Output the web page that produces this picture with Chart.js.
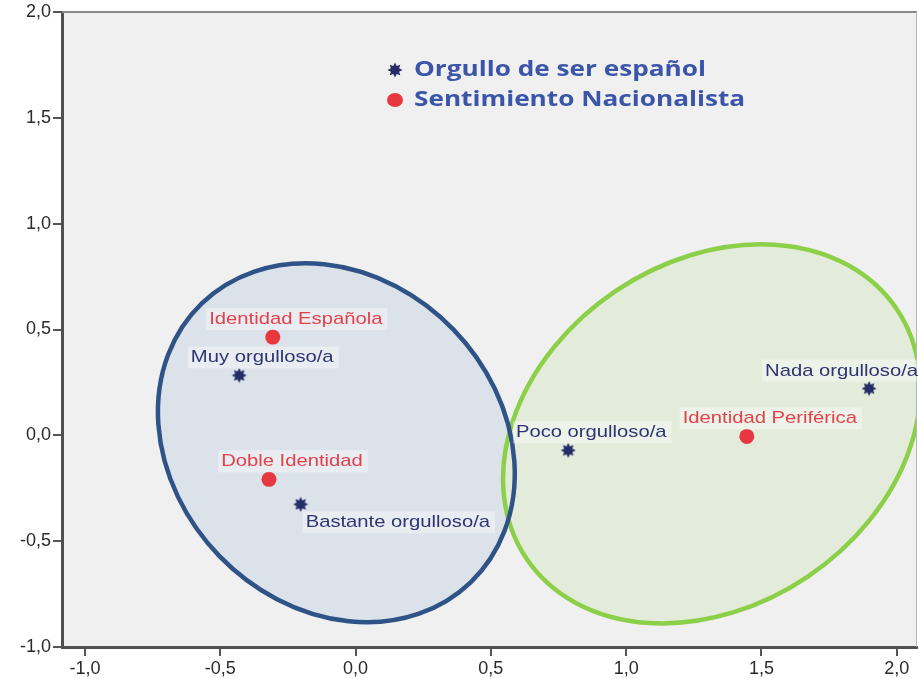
<!DOCTYPE html>
<html><head><meta charset="utf-8">
<style>html,body{margin:0;padding:0;background:#fff}canvas{display:block}</style>
<script src="https://cdn.jsdelivr.net/npm/chart.js@4.4.1/dist/chart.umd.min.js"></script>
</head><body>
<canvas id="c" width="918" height="679"></canvas>
<script>
// ---- data ----
const prideSeriesName = 'Orgullo de ser español';
const prideLabels = ['Muy orgulloso/a', 'Bastante orgulloso/a', 'Poco orgulloso/a', 'Nada orgulloso/a'];
const prideX = [-0.430, -0.203, 0.786, 1.898];
const prideY = [0.283, -0.326, -0.071, 0.221];

const identitySeriesName = 'Sentimiento Nacionalista';
const identityLabels = ['Identidad Española', 'Doble Identidad', 'Identidad Periférica'];
const identityX = [-0.306, -0.320, 1.446];
const identityY = [0.464, -0.208, -0.005];

const xTickValues = [-1.0, -0.5, 0.0, 0.5, 1.0, 1.5, 2.0];
const yTickValues = [-1.0, -0.5, 0.0, 0.5, 1.0, 1.5, 2.0];

// group ellipses (data units; radii in x-units, angle in degrees)
const groupCenterX = [-0.071, 1.316];
const groupCenterY = [-0.035, 0.007];
const groupRadiusA = [0.716, 0.825];
const groupRadiusB = [0.602, 0.636];
const groupAngle = [46, -34];

// ---- styles ----
const pridePlacement = ['above', 'below', 'above', 'above'];
const identityPlacement = ['above', 'above', 'above'];
const NAVY = '#252c66';
const RED = '#e8383f';
const groupStroke = ['#2f5387', '#8ccf48'];
const groupFill = ['#dce2ea', 'rgba(226,236,216,0.92)'];

function makeStar(color) {
  const c = document.createElement('canvas');
  c.width = 18; c.height = 18;
  const g = c.getContext('2d');
  g.fillStyle = color;
  g.beginPath();
  const n = 8;
  for (let k = 0; k < n * 2; k++) {
    const r = (k % 2 === 0) ? 7.5 : 4.4;
    const a = -Math.PI / 2 + k * Math.PI / n;
    const px = 9 + r * Math.cos(a), py = 9 + r * Math.sin(a);
    if (k === 0) g.moveTo(px, py); else g.lineTo(px, py);
  }
  g.closePath();
  g.fill();
  return c;
}
const starImg = makeStar(NAVY);

const fmt = v => v.toFixed(1).replace('.', ',');
const zip = (xs, ys) => xs.map((x, i) => ({x: x, y: ys[i]}));

const bgPlugin = {
  id: 'bg',
  beforeDraw(chart) {
    const {ctx, chartArea: a} = chart;
    ctx.save();
    ctx.fillStyle = '#f0f0f0';
    ctx.fillRect(a.left, a.top, a.right - a.left, a.bottom - a.top);
    ctx.restore();
  },
  beforeDatasetsDraw(chart) {
    const {ctx, chartArea: a, scales} = chart;
    const xs = scales.x, ys = scales.y;
    ctx.save();
    ctx.beginPath();
    ctx.rect(a.left, a.top, a.right - a.left, a.bottom - a.top);
    ctx.clip();
    const geo = groupCenterX.map((cx, i) => ({
      x: xs.getPixelForValue(cx),
      y: ys.getPixelForValue(groupCenterY[i]),
      ra: xs.getPixelForValue(cx + groupRadiusA[i]) - xs.getPixelForValue(cx),
      rb: xs.getPixelForValue(cx + groupRadiusB[i]) - xs.getPixelForValue(cx),
      rot: groupAngle[i] * Math.PI / 180
    }));
    geo.forEach((g, i) => {
      ctx.beginPath();
      ctx.ellipse(g.x, g.y, g.ra, g.rb, g.rot, 0, Math.PI * 2);
      ctx.fillStyle = groupFill[i];
      ctx.fill();
    });
    [1, 0].forEach(i => {
      const g = geo[i];
      ctx.beginPath();
      ctx.ellipse(g.x, g.y, g.ra, g.rb, g.rot, 0, Math.PI * 2);
      ctx.strokeStyle = groupStroke[i];
      ctx.lineWidth = 4.5;
      ctx.stroke();
    });
    ctx.restore();
    // top/right frame
    ctx.save();
    ctx.strokeStyle = '#8a8a8a';
    ctx.lineWidth = 2;
    ctx.beginPath(); ctx.moveTo(a.left, a.top); ctx.lineTo(a.right, a.top); ctx.stroke();
    ctx.strokeStyle = '#b5b5b5';
    ctx.lineWidth = 1;
    ctx.beginPath(); ctx.moveTo(a.right - 0.5, a.top); ctx.lineTo(a.right - 0.5, a.bottom); ctx.stroke();
    ctx.restore();
  },
  afterDatasetsDraw(chart) {
    const {ctx, chartArea: a} = chart;
    const SX = 1.19;
    ctx.save();
    ctx.font = '17px "Liberation Sans", Arial, sans-serif';
    ctx.textBaseline = 'alphabetic';
    chart.data.datasets.forEach((ds, di) => {
      const meta = chart.getDatasetMeta(di);
      meta.data.forEach((el, i) => {
        const text = ds.pointLabels[i];
        const w = ctx.measureText(text).width * SX;
        let left, base;
        if (ds.placement[i] === 'below') { left = el.x + 5; base = el.y + 23; }
        else { left = el.x + 23 - w / 2; base = el.y - 13; }
        if (left + w > a.right + 1) left = a.right + 1 - w;
        ctx.fillStyle = 'rgba(255,255,255,0.38)';
        ctx.fillRect(left - 3, base - 16, w + 8, 22);
        ctx.fillStyle = ds.labelColor;
        ctx.save();
        ctx.translate(left, base);
        ctx.scale(SX, 1);
        ctx.fillText(text, 0, 0);
        ctx.restore();
      });
    });
    // legend
    ctx.font = 'bold 22px "Open Sans", "Noto Sans", sans-serif';
    const lsx = 292 / ctx.measureText(prideSeriesName).width;
    const rows = [
      {name: chart.data.datasets[0].label, marker: 'star', y: 76, my: 70},
      {name: chart.data.datasets[1].label, marker: 'dot', y: 106, my: 100}
    ];
    rows.forEach(r => {
      if (r.marker === 'star') ctx.drawImage(starImg, 395 - 9, r.my - 9);
      else {
        ctx.beginPath();
        ctx.ellipse(395, r.my, 8, 7, 0, 0, Math.PI * 2);
        ctx.fillStyle = RED; ctx.fill();
      }
      ctx.fillStyle = '#3b55a8';
      ctx.save();
      ctx.translate(414, r.y);
      ctx.scale(lsx, 1);
      ctx.fillText(r.name, 0, 0);
      ctx.restore();
    });
    ctx.restore();
  }
};

const axisCommon = {
  type: 'linear',
  grid: {drawOnChartArea: false, drawTicks: true, tickLength: 9, color: '#555', lineWidth: 2},
  border: {display: true, color: '#505050', width: 3},
  ticks: {
    font: {family: '"Liberation Sans", Arial, sans-serif', size: 18},
    color: '#2a2a2a',
    padding: 2,
    includeBounds: false,
    callback: v => fmt(v)
  }
};

new Chart(document.getElementById('c'), {
  type: 'scatter',
  data: {
    datasets: [
      {
        label: prideSeriesName,
        data: zip(prideX, prideY),
        pointStyle: starImg,
        pointRadius: 8,
        pointHoverRadius: 8,
        backgroundColor: NAVY,
        borderColor: NAVY,
        pointLabels: prideLabels,
        placement: pridePlacement,
        labelColor: '#2e3573'
      },
      {
        label: identitySeriesName,
        data: zip(identityX, identityY),
        pointStyle: 'circle',
        pointRadius: 7.5,
        pointHoverRadius: 7.5,
        backgroundColor: RED,
        borderColor: RED,
        borderWidth: 0,
        pointLabels: identityLabels,
        placement: identityPlacement,
        labelColor: '#e5414b'
      }
    ]
  },
  options: {
    responsive: false,
    devicePixelRatio: 1,
    animation: false,
    layout: {autoPadding: false, padding: {top: 12, right: 1, left: 0, bottom: 0}},
    plugins: {legend: {display: false}, tooltip: {enabled: false}},
    scales: {
      x: Object.assign({}, axisCommon, {
        min: -1.085, max: 2.075,
        afterBuildTicks: s => { s.ticks = xTickValues.map(v => ({value: v})); },
        afterFit: s => { s.height = 32; s.paddingLeft = 0; s.paddingRight = 0; }
      }),
      y: Object.assign({}, axisCommon, {
        min: -1.0, max: 2.0,
        afterBuildTicks: s => { s.ticks = yTickValues.map(v => ({value: v})); },
        afterFit: s => { s.width = 62; s.paddingTop = 0; s.paddingBottom = 0; }
      })
    }
  },
  plugins: [bgPlugin]
});
</script>
</body></html>
